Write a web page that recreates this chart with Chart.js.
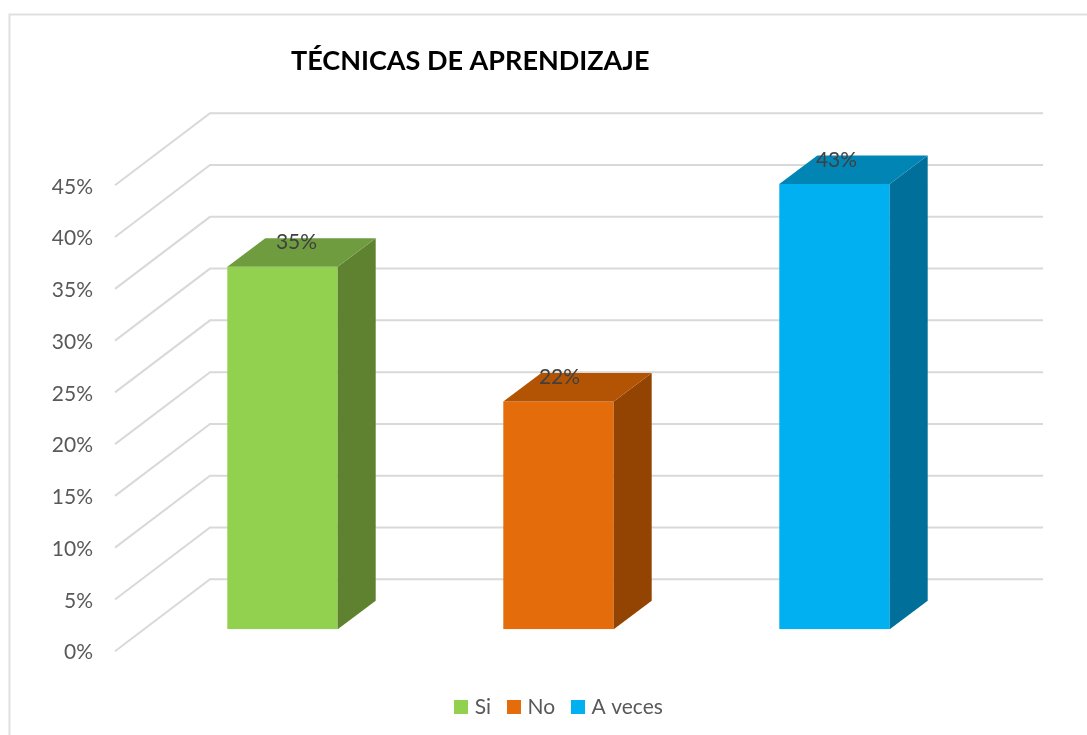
<!DOCTYPE html>
<html lang="es">
<head>
<meta charset="utf-8">
<title>Técnicas de aprendizaje</title>
<style>
html,body{margin:0;padding:0;background:#fff;overflow:hidden}
canvas{display:block}
</style>
<script src="https://cdn.jsdelivr.net/npm/chart.js@4/dist/chart.umd.js"></script>
</head>
<body>
<canvas id="c" width="1087" height="735"></canvas>
<script>
const chartTitle = "TÉCNICAS DE APRENDIZAJE";
const categories = ["Si", "No", "A veces"];
const values = [35, 22, 43];
const tickValues = [0, 5, 10, 15, 20, 25, 30, 35, 40, 45];
const frontColors = ["#92D050", "#E46C0A", "#00B0F0"];
const sideColors = ["#5E8230", "#934403", "#006F99"];
const topColors = ["#6F9C3F", "#B35304", "#0085B5"];
const labelShiftX = [14, 1, 2];
const labelShiftY = [-24.5, -24.5, -23.5];

const FONT = "Lato";
const AXIS_COLOR = "#595959";
const GRID = "#D9D9D9";
const WALL = {dx: 95, dy: -72};
const BAR_SHIFT = {dx: 29.5, dy: -22};
const DEPTH = {dx: 38, dy: -28.5};
const W = 1087, H = 735;

function swatch(color) {
  const s = document.createElement("canvas");
  s.width = 14; s.height = 14;
  const g = s.getContext("2d");
  g.fillStyle = color;
  g.fillRect(0, 0, 14, 14);
  return s;
}
function poly(ctx, color, pts) {
  ctx.fillStyle = color;
  ctx.beginPath();
  pts.forEach((p, i) => i ? ctx.lineTo(p[0], p[1]) : ctx.moveTo(p[0], p[1]));
  ctx.closePath();
  ctx.fill();
}

const scene = {
  id: "scene",
  beforeDraw(chart) {
    const {ctx, chartArea: a, scales: {y}} = chart;
    ctx.save();
    ctx.fillStyle = "#fff";
    ctx.fillRect(0, 0, W, H);
    ctx.strokeStyle = "#E0E0E0";
    ctx.lineWidth = 2;
    ctx.beginPath();
    ctx.moveTo(9.5, H); ctx.lineTo(9.5, 14.5); ctx.lineTo(W, 14.5);
    ctx.stroke();
    ctx.strokeStyle = GRID;
    ctx.lineWidth = 2;
    tickValues.forEach(v => {
      const py = y.getPixelForValue(v);
      ctx.beginPath();
      ctx.moveTo(a.left, py);
      ctx.lineTo(a.left + WALL.dx, py + WALL.dy);
      ctx.lineTo(1043, py + WALL.dy);
      ctx.stroke();
    });
    ctx.fillStyle = "#000";
    ctx.font = "bold 27px " + FONT;
    ctx.textAlign = "left";
    ctx.textBaseline = "middle";
    ctx.fillText(chartTitle, 291, 61.5);
    ctx.restore();
  },
  beforeDatasetsDraw(chart) {
    chart.ctx.save();
    chart.ctx.translate(BAR_SHIFT.dx, BAR_SHIFT.dy);
  },
  afterDatasetsDraw(chart) {
    const {ctx} = chart;
    chart.getDatasetMeta(0).data.forEach((bar, i) => {
      const l = bar.x - bar.width / 2, r = bar.x + bar.width / 2;
      const t = bar.y, b = bar.base;
      poly(ctx, sideColors[i], [[r, t], [r + DEPTH.dx, t + DEPTH.dy], [r + DEPTH.dx, b + DEPTH.dy], [r, b]]);
      poly(ctx, topColors[i], [[l, t], [l + DEPTH.dx, t + DEPTH.dy], [r + DEPTH.dx, t + DEPTH.dy], [r, t]]);
    });
    ctx.fillStyle = "#404040";
    ctx.font = "21px " + FONT;
    ctx.textAlign = "center";
    ctx.textBaseline = "middle";
    chart.getDatasetMeta(0).data.forEach((bar, i) => {
      ctx.fillText(values[i] + "%", bar.x + labelShiftX[i], bar.y + labelShiftY[i]);
    });
    ctx.restore();
  }
};

new Chart(document.getElementById("c"), {
  type: "bar",
  data: {
    labels: categories,
    datasets: [{
      data: values,
      backgroundColor: frontColors,
      borderWidth: 0,
      categoryPercentage: 0.4,
      barPercentage: 1
    }]
  },
  options: {
    responsive: false,
    animation: false,
    devicePixelRatio: 1,
    layout: {padding: {top: 185.3, left: 34, right: 0, bottom: 7.4}},
    scales: {
      x: {
        display: true,
        grid: {display: false},
        border: {display: false},
        ticks: {display: false},
        afterFit(s) { s.height = 25.4; }
      },
      y: {
        min: 0,
        max: 45,
        grid: {display: false, drawTicks: false},
        border: {display: false},
        ticks: {
          stepSize: 5,
          padding: 22,
          labelOffset: 1.5,
          color: AXIS_COLOR,
          font: {family: FONT, size: 21},
          callback: v => v + "%"
        },
        afterFit(s) { s.width = 81; }
      },
      spacer: {
        axis: "y",
        position: "right",
        display: true,
        grid: {display: false},
        border: {display: false},
        ticks: {display: false},
        afterFit(s) { s.width = 144; }
      }
    },
    plugins: {
      title: {display: false},
      tooltip: {enabled: false},
      legend: {
        display: true,
        position: "bottom",
        labels: {
          usePointStyle: true,
          pointStyleWidth: 6,
          boxHeight: 14,
          padding: 20,
          color: AXIS_COLOR,
          font: {family: FONT, size: 21},
          generateLabels: () => categories.map((c, i) => ({
            text: c,
            fillStyle: frontColors[i],
            strokeStyle: frontColors[i],
            fontColor: AXIS_COLOR,
            lineWidth: 0,
            pointStyle: swatch(frontColors[i]),
            hidden: false,
            index: i
          }))
        }
      }
    }
  },
  plugins: [scene]
});
</script>
</body>
</html>
